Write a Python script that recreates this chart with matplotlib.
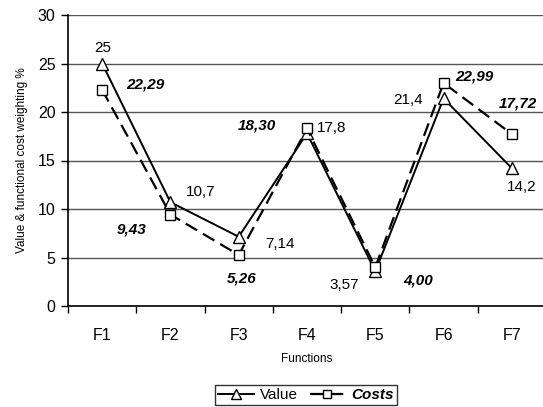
import numpy as np
import matplotlib.pyplot as plt
from matplotlib.ticker import FixedLocator

plt.rcParams['font.family'] = ['Liberation Sans', 'DejaVu Sans']

functions = ['F1', 'F2', 'F3', 'F4', 'F5', 'F6', 'F7']
value = [25, 10.7, 7.14, 17.8, 3.57, 21.4, 14.2]
costs = [22.29, 9.43, 5.26, 18.30, 4.00, 22.99, 17.72]
value_labels = ['25', '10,7', '7,14', '17,8', '3,57', '21,4', '14,2']
costs_labels = ['22,29', '9,43', '5,26', '18,30', '4,00', '22,99', '17,72']

# label offsets in pixels (dx, dy)
value_off = [(1, 16), (30, 10), (41, -7), (25, 5), (-31, -14), (-36, -2), (10, -19)]
costs_off = [(43, 5), (-39, -15), (3, -24), (-50, 3), (43, -13), (31, 6), (6, 31)]

fig = plt.figure(figsize=(5.43, 4.07), dpi=100)
ax = fig.add_axes([68/543, 1-306/407, 478/543, 291/407])

x = np.arange(len(functions))
ax.plot(x, value, '-', color='black', lw=1.4, marker='^', ms=8.5,
        mfc='white', mec='black', mew=1, label='Value', zorder=3)
ax.plot(x, costs, '--', color='black', lw=1.6, dashes=(6, 3), marker='s', ms=7.5,
        mfc='white', mec='black', mew=1, label='Costs', zorder=3)

for i in range(len(x)):
    ax.annotate(value_labels[i], (x[i], value[i]), xytext=value_off[i],
                textcoords='offset pixels', ha='center', va='center', fontsize=11)
    ax.annotate(costs_labels[i], (x[i], costs[i]), xytext=costs_off[i],
                textcoords='offset pixels', ha='center', va='center', fontsize=11,
                fontweight='bold', fontstyle='italic')

ax.set_xlim(-0.5, 6.5)
ax.set_ylim(0, 30)
ax.set_yticks(np.arange(0, 31, 5))
ax.set_xticks(x)
ax.set_xticklabels(functions)
ax.xaxis.set_minor_locator(FixedLocator(np.arange(-0.5, 7, 1)))
ax.tick_params(axis='x', which='major', length=0, pad=16, labelsize=11.5)
ax.tick_params(axis='x', which='minor', length=5, direction='out', width=1)
ax.tick_params(axis='y', length=5, direction='out', width=1, labelsize=11.5, pad=4)

ax.yaxis.grid(True, color='#555555', lw=1)
ax.set_axisbelow(True)
for s in ['top', 'right']:
    ax.spines[s].set_visible(False)
ax.spines['left'].set_linewidth(1.2)
ax.spines['bottom'].set_linewidth(1.2)

ax.set_xlabel('Functions', fontsize=8.5, labelpad=7)
ax.set_ylabel('Value & functional cost weighting %', fontsize=8.5, labelpad=7)

leg = ax.legend(loc='upper center', bbox_to_anchor=(306/543, 1-385/407),
                bbox_transform=fig.transFigure, ncol=2, frameon=True, fancybox=False,
                edgecolor='black', fontsize=11, handlelength=2.3, columnspacing=0.8,
                handletextpad=0.4, borderpad=0.2, borderaxespad=0, markerscale=0.85)
leg.get_frame().set_linewidth(1)
leg.get_texts()[1].set_fontweight('bold')
leg.get_texts()[1].set_fontstyle('italic')

fig.savefig('out.png', dpi=100)
